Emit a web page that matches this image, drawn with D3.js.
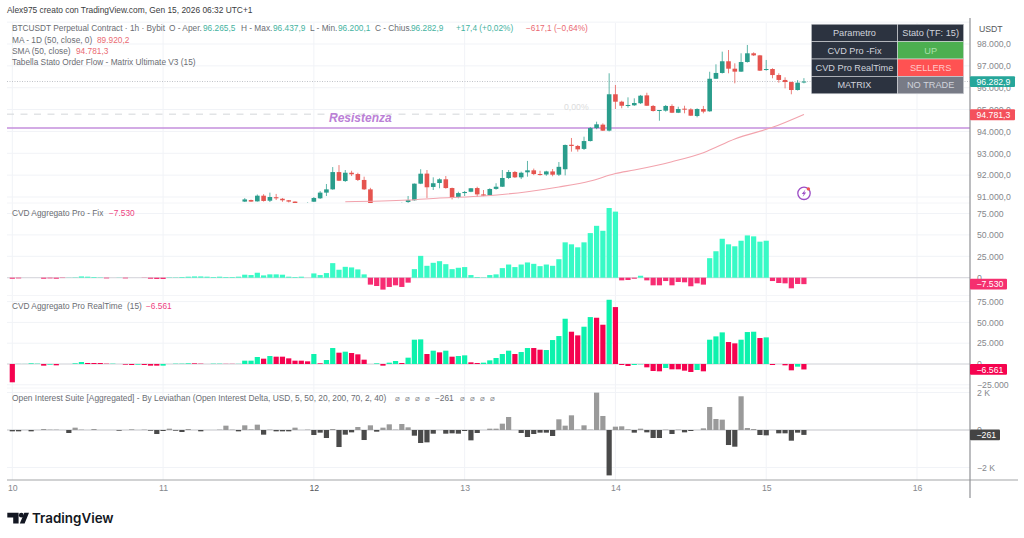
<!DOCTYPE html>
<html>
<head>
<meta charset="utf-8">
<title>BTCUSDT</title>
<script src="https://d3js.org/d3.v7.min.js"></script>
<style>
  html, body { margin: 0; padding: 0; background: #fff; }
  svg { display: block; }
  text { font-family: "Liberation Sans", sans-serif; }
</style>
</head>
<body>
<div id="chart"></div>
<script type="text/javascript">

// day ticks, one bar is one hour
const dayLabels = [10, 11, 12, 13, 14, 15, 16];
const priceTicks = [91000, 92000, 93000, 94000, 95000, 96000, 97000, 98000, 99000];
const cvdFixTicks = [0, 25, 50, 75];
const cvdRtTicks = [-25, 0, 25, 50, 75];
const oiTicks = [-2000, 0, 2000];

// candles start at bar 37, everything before is below the pane
const candleStart = 37;
const open = [90790,90860,90800,91060,90830,90990,90920,90850,90790,90560,90650,90785,90940,91200,91350,92140,91730,92110,92050,91780,91350,90600,90450,90550,90480,90600,90770,90850,91610,92070,91460,91640,91810,91410,91000,91180,91240,91410,91120,91080,91370,91470,91870,92145,91900,92130,92220,92050,92030,92170,92020,92270,93390,93335,93200,93560,94155,94310,94035,95700,95360,95165,95195,95290,95650,95165,94935,94950,95165,94855,95040,95010,94705,95025,94920,96410,96675,97210,96870,96735,97175,97575,97480,96810,96855,96580,96355,96260,95895,96265.5];
const high = [90950,90880,91115,91130,91200,91140,90955,90860,90800,90700,90750,91000,91270,91595,92370,92460,92235,92200,92110,91930,91420,90650,90600,90600,90640,90740,91046,91620,92270,92235,91900,91855,91960,91430,91240,91275,91410,91470,91320,91400,91630,92235,92235,92190,92160,92650,92300,92200,92200,92280,92600,93400,93700,93380,93760,94200,94445,94370,96660,96125,95405,95560,95515,95670,95770,95210,94980,95210,95240,95130,95175,95060,95060,95165,96730,97070,97650,97725,97115,97575,97955,97620,97500,97270,96890,96660,96475,96275,96350,96437.9];
const low = [90770,90780,90790,90790,90770,90860,90780,90750,90500,90500,90600,90770,90910,91045,91330,91730,91690,91960,91730,91320,90500,90350,90400,90400,90430,90560,90730,90830,91590,90955,91320,91400,91380,90890,90940,91046,91220,91010,91040,91050,91335,91460,91820,91870,91820,91930,92000,91980,91970,91950,91960,91990,93075,93075,93150,93540,94100,94020,94000,95025,95060,95085,95165,95255,95165,94910,94490,94905,94840,94840,94830,94705,94645,94830,94900,96400,96650,96660,96200,96720,97150,97450,96765,96780,96430,96230,95970,95700,95870,96200.1];
const close = [90890,90790,91060,90820,91000,90940,90850,90790,90560,90650,90710,90955,91200,91350,92140,91745,92110,92040,91780,91350,90600,90450,90550,90480,90600,90700,90860,91610,92066,91445,91630,91810,91410,90955,91180,91230,91400,91120,91060,91365,91470,91870,92145,91900,92110,92220,92050,92030,92170,92020,92380,93380,93335,93180,93560,94155,94325,94035,95700,95360,95175,95210,95300,95635,95175,94935,94980,95165,94855,95025,94995,94720,95025,94905,96410,96675,97210,96870,96735,97175,97575,97480,96780,96855,96580,96355,96260,95895,96230,96282.9];

// SMA 50 read at these bars
const smaBars = [53, 63, 68, 75, 82, 87, 92, 96, 99, 105, 110, 115, 121, 126];
const smaValues = [90785, 90863, 90955, 91046, 91243, 91458, 91732, 92075, 92235, 92615, 93027, 93654, 94189, 94781.3];

const resistance = 94157;
const lastClose = 96282.9;
const dashedLevel = 94790;

// CVD fix, thousands
const cvdFix = [-1.2,-0.8,0,0,0,-1.2,-0.8,-1.2,-0.4,0.2,0.4,1.5,1.2,0.8,0.4,-0.8,0,0.2,-0.8,0,0,-0.2,-1.2,-1.5,-1.5,0.4,0.4,0.8,1.2,1.5,1.5,1.2,0.8,1.2,0.8,0.8,1.2,3.5,3.1,5.8,2.7,3.9,3.9,3.5,1.2,0.8,1.2,0,5,3.1,5.4,17,9.3,12.7,12,9.7,3.9,-8.1,-9.7,-13.9,-10.8,-8.9,-10.8,-5.8,10,25.5,13.9,17.4,19.3,15.8,10,11.6,12.4,3.1,0.8,0.4,3.1,3.9,11.2,15.4,12.4,15.4,17.8,16.2,13.5,15.4,13.9,21.6,41.3,39,35.5,41.3,52.1,60.6,54.8,81.4,77.2,-3.1,-2.7,-1.2,2.3,-3.1,-8.9,-8.9,-3.9,-8.9,-5,-5.4,-10,-6.6,-8.1,22.8,30.9,45.5,39,36.7,43.2,49.4,48.3,42.1,43.2,-3.9,-6.2,-6.6,-12.4,-7.3,-7.53];

// CVD realtime, thousands, with side 1 buyers 0 sellers (colour does not follow the sign)
const cvdRt = [-22,0.1,0.1,0.8,0.4,-2,-0.8,-1.6,0,0,0.8,2.4,1.2,1.2,1.2,0.4,0.4,0,-0.8,-1.2,-0.8,-1.2,-2,-2,-2,0,0.4,0.4,0.8,0.8,0.4,0,0.4,0.4,0.2,0.2,0.2,4,4,8.4,6.4,9.6,8.8,8.8,6.8,4,4,3.2,12,0.8,4.8,19.2,13.6,14.8,13.2,11.6,5.2,0,0.8,-2,1.6,3.6,1.2,7.6,29.2,29.6,12,16,14,16,8.8,9.6,10.4,2,1.2,1.6,4.4,7.2,12,16,12,14.4,19.2,19.2,17.2,16.8,28.8,33.6,54.4,38.8,34.4,44.8,56.4,55.6,47.2,77.2,68.4,-1.2,-2.4,-1.2,-0.4,-4,-8.4,-8.8,-4.8,-6.4,-6.4,-8,-9.6,-7.2,-8.8,29.2,33.2,38,26.4,24.8,29.2,38.4,38.8,31.2,32,-1.2,0,-1.6,-7.6,-3.2,-6.561];
const cvdRtSide = [0,1,1,1,1,0,1,0,1,1,1,1,0,0,0,0,1,1,0,0,1,0,0,0,1,1,1,1,1,0,0,1,1,1,0,0,1,1,1,1,0,1,0,0,0,0,0,0,1,0,1,1,0,1,0,0,0,1,1,0,1,1,0,1,1,1,0,1,0,1,0,1,1,0,0,1,1,1,1,1,0,1,1,0,0,1,1,1,1,0,0,1,1,0,0,1,0,0,0,1,1,0,0,0,1,0,0,0,0,1,0,1,1,1,0,0,1,1,1,0,1,0,1,0,0,1,0];

// open interest delta
const oiDelta = [-71,-71,0,-71,0,53,18,18,0,-160,125,18,0,53,0,0,0,-36,0,36,0,18,-36,-214,-53,71,-36,-107,53,0,-71,0,0,18,231,18,-71,249,36,285,-249,18,-71,-71,-71,125,0,18,-267,-142,-427,53,-908,-249,-125,160,-534,249,-89,125,303,18,320,142,-303,-694,-659,-196,0,-196,-178,-196,-53,-552,-160,0,71,71,338,694,0,-160,-374,-214,-142,-142,-320,570,231,783,18,249,18,1994,748,-2421,178,196,36,-142,71,-125,-427,-427,18,-214,18,-125,-53,0,89,1228,587,552,-801,-890,1798,107,53,-267,-285,0,-178,-178,-570,-142,-261];

const tableHead = ["Parametro", "Stato (TF: 15)"];
const tableRows = ["CVD Pro -Fix", "CVD Pro RealTime", "MATRIX"];
const tableStates = ["UP", "SELLERS", "NO TRADE"];
const tableColors = ["#4caf50", "#ff5252", "#787b86"];

const W = 1024, H = 538;
const axisX = 970, leftX = 7;
const axisFont = 8.7, legendFont = 8.3;

const svg = d3.select("#chart").append("svg").attr("width", W).attr("height", H);

const x = d3.scaleLinear().domain([0, 144]).range([12.3, 917]);
const yPrice = d3.scaleLinear().domain([91000, 98000]).range([197, 44]);
const yFix = d3.scaleLinear().domain([0, 75]).range([277.7, 213.5]);
const yRt = d3.scaleLinear().domain([0, 75]).range([364, 301.6]);
const yOi = d3.scaleLinear().domain([-2000, 2000]).range([467.5, 392.5]);

const grid = "#f1f3f7";
// italian number format, 96.282,9
function itNum(v, dec) {
  const parts = Math.abs(v).toFixed(dec).split(".");
  const whole = parts[0].replace(/\B(?=(\d{3})+$)/g, ".");
  return (v < 0 ? "\u2212" : "") + whole + (parts[1] ? "," + parts[1] : "");
}

// grids
const gGrid = svg.append("g");
gGrid.selectAll("line.v").data(dayLabels).enter().append("line")
  .attr("x1", (d, i) => x(i * 24)).attr("x2", (d, i) => x(i * 24))
  .attr("y1", 23).attr("y2", 480).attr("stroke", grid);
function hGrid(scale, ticks) {
  gGrid.selectAll(null).data(ticks).enter().append("line")
    .attr("x1", leftX).attr("x2", axisX)
    .attr("y1", d => scale(d)).attr("y2", d => scale(d)).attr("stroke", grid);
}
hGrid(yPrice, priceTicks);
hGrid(yFix, cvdFixTicks);
hGrid(yRt, cvdRtTicks);
hGrid(yOi, oiTicks);
[203, 295.5, 388].forEach(function(y) {
  gGrid.append("line").attr("x1", leftX).attr("x2", axisX).attr("y1", y).attr("y2", y).attr("stroke", "#f4f5f8");
});

// zero lines
[[yFix, 0, "#d5d6da"], [yRt, 0, "#d5d6da"], [yOi, 0, "#c9cacd"]].forEach(function(z) {
  svg.append("line").attr("x1", leftX).attr("x2", axisX)
    .attr("y1", z[0](z[1])).attr("y2", z[0](z[1])).attr("stroke", z[2]);
});

// price pane
svg.append("clipPath").attr("id", "pricePane").append("rect")
  .attr("x", leftX).attr("y", 23).attr("width", axisX - leftX).attr("height", 180);
const pane = svg.append("g").attr("clip-path", "url(#pricePane)");

pane.append("line").attr("x1", leftX).attr("x2", axisX)
  .attr("y1", yPrice(lastClose)).attr("y2", yPrice(lastClose))
  .attr("stroke", "#bfc3c9").attr("stroke-dasharray", "1,1.5");
pane.append("line").attr("x1", leftX).attr("x2", 557)
  .attr("y1", yPrice(dashedLevel)).attr("y2", yPrice(dashedLevel))
  .attr("stroke", "#d4d6da").attr("stroke-dasharray", "7,6.5");
pane.append("text").attr("x", 564).attr("y", 110).attr("font-size", axisFont)
  .attr("fill", "#dcdcdc").text("0,00%");

pane.append("line").attr("x1", leftX).attr("x2", axisX)
  .attr("y1", yPrice(resistance)).attr("y2", yPrice(resistance))
  .attr("stroke", "#c58fdc").attr("stroke-width", 1.6);

const candles = open.map((o, i) => ({ i: i + candleStart, o: o, h: high[i], l: low[i], c: close[i] }));
const green = "#2a9d8c", red = "#e5544f";
const cg = pane.selectAll("g.candle").data(candles).enter().append("g").attr("class", "candle");
cg.append("line")
  .attr("x1", d => x(d.i)).attr("x2", d => x(d.i))
  .attr("y1", d => yPrice(d.h)).attr("y2", d => yPrice(d.l))
  .attr("stroke", d => d.c >= d.o ? green : red).attr("stroke-opacity", 0.75);
cg.append("rect")
  .attr("x", d => x(d.i) - 2.3).attr("width", 4.6)
  .attr("y", d => yPrice(Math.max(d.o, d.c)))
  .attr("height", d => Math.max(1, Math.abs(yPrice(d.o) - yPrice(d.c))))
  .attr("fill", d => d.c >= d.o ? green : red);

const smaLine = d3.line().x(d => x(d[0])).y(d => yPrice(d[1])).curve(d3.curveMonotoneX);
pane.append("path").datum(smaBars.map((b, i) => [b, smaValues[i]]))
  .attr("d", smaLine).attr("fill", "none").attr("stroke", "#f2a3ad").attr("stroke-width", 1.1);

pane.append("text").attr("x", 329).attr("y", 121.5).attr("font-size", 12)
  .attr("font-weight", "bold").attr("font-style", "italic").attr("fill", "#bb80d6").text("Resistenza");

// indicator bars
function bars(values, scale, color) {
  svg.append("g").selectAll("rect").data(values).enter().append("rect")
    .attr("x", (d, i) => x(i) - 2.6).attr("width", 5.2)
    .attr("y", d => Math.min(scale(d), scale(0)))
    .attr("height", d => Math.abs(scale(d) - scale(0)))
    .attr("fill", color);
}
bars(cvdFix, yFix, d => d >= 0 ? "#38fac6" : "#f72c72");
bars(cvdRt, yRt, (d, i) => cvdRtSide[i] ? "#0df2ad" : "#f5034f");
bars(oiDelta, yOi, d => d >= 0 ? "#9a9a9a" : "#4a4a4a");

// axes lines
svg.append("line").attr("x1", leftX).attr("x2", 1018).attr("y1", 480).attr("y2", 480).attr("stroke", "#a3a5a8").attr("stroke-width", 1.2);
svg.append("line").attr("x1", axisX).attr("x2", axisX).attr("y1", 18).attr("y2", 498).attr("stroke", "#8f9195").attr("stroke-width", 1.2);

// right axes
function rightAxis(scale, ticks, fmt) {
  const a = d3.axisRight(scale).tickValues(ticks).tickFormat(fmt).tickSize(0).tickPadding(7);
  const g = svg.append("g").attr("transform", "translate(" + axisX + ",0)").call(a);
  g.select(".domain").remove();
  g.selectAll("text").attr("fill", "#85878c").attr("font-size", axisFont)
    .style("font-family", "'Liberation Sans', sans-serif");
}
rightAxis(yPrice, priceTicks.slice(0, 8), d => itNum(d, 1));
rightAxis(yFix, cvdFixTicks, d => d === 0 ? "0" : itNum(d * 1000, 0));
rightAxis(yRt, cvdRtTicks, d => d === 0 ? "0" : itNum(d * 1000, 0));
rightAxis(yOi, oiTicks, d => d === 0 ? "0" : (d < 0 ? "\u2212" : "") + Math.abs(d / 1000) + " K");

// bottom axis
const dayAxis = d3.axisBottom(x).tickValues(dayLabels.map((d, i) => i * 24))
  .tickFormat((d, i) => dayLabels[i]).tickSize(0).tickPadding(5);
const gDays = svg.append("g").attr("transform", "translate(0,480)").call(dayAxis);
gDays.select(".domain").remove();
gDays.selectAll("text").attr("fill", (d, i) => dayLabels[i] === 12 ? "#55585c" : "#85878c").attr("font-size", axisFont)
  .style("font-family", "'Liberation Sans', sans-serif");

svg.append("text").attr("x", 979).attr("y", 32).attr("font-size", axisFont).attr("fill", "#55585c").text("USDT");

// last value tags
function tag(y0, y1, x1, color, label) {
  svg.append("rect").attr("x", axisX).attr("y", y0).attr("width", x1 - axisX).attr("height", y1 - y0)
    .attr("rx", 1).attr("fill", color);
  svg.append("text").attr("x", axisX + 6.5).attr("y", (y0 + y1) / 2 + 3.1).attr("font-size", axisFont)
    .attr("fill", "#fff").text(label);
}
tag(yPrice(lastClose) - 5.2, yPrice(lastClose) + 5.4, 1015, "#26a69a", itNum(lastClose, 1));
tag(yPrice(smaValues[13]) - 5, yPrice(smaValues[13]) + 6, 1015, "#f4515c", itNum(smaValues[13], 1));
tag(yFix(cvdFix[126]) - 5.3, yFix(cvdFix[126]) + 5.3, 1007, "#f5306f", itNum(cvdFix[126] * 1000, 0));
tag(yRt(cvdRt[126]) - 5.4, yRt(cvdRt[126]) + 5.4, 1007, "#f5034f", itNum(cvdRt[126] * 1000, 0));
tag(yOi(oiDelta[126]) - 5.3, yOi(oiDelta[126]) + 5.3, 1000, "#444", itNum(oiDelta[126], 0));

// legend texts
function label(px, py, s, color, size) {
  return svg.append("text").attr("x", px).attr("y", py).attr("font-size", size || legendFont)
    .attr("fill", color || "#6a6d73").text(s);
}
const valG = "#45b39f", valR = "#ea6a72";
label(7, 13, "Alex975 creato con TradingView.com, Gen 15, 2026 06:32 UTC+1", "#3a3c40", 8.4);
label(12, 31, "BTCUSDT Perpetual Contract \u00b7 1h \u00b7 Bybit");
label(169, 31, "O - Aper.");
label(203, 31, itNum(open[89], 1), valG);
label(241, 31, "H - Max.");
label(273, 31, itNum(high[89], 1), valG);
label(310, 31, "L - Min.");
label(338, 31, itNum(low[89], 1), valG);
label(375, 31, "C - Chius.");
label(411, 31, itNum(close[89], 1), valG);
label(456, 31, "+17,4 (+0,02%)", valG);
label(526, 31, "\u2212617,1 (\u22120,64%)", valR);
label(12, 42.5, "MA - 1D (50, close, 0)");
label(97, 42.5, "89.920,2", valR);
label(12, 53.5, "SMA (50, close)");
label(76, 53.5, itNum(smaValues[13], 1), valR);
label(12, 64.5, "Tabella Stato Order Flow - Matrix Ultimate V3 (15)");

label(12, 216, "CVD Aggregato Pro - Fix");
label(109, 216, itNum(cvdFix[126] * 1000, 0), "#ee3f7f");
label(12, 308.5, "CVD Aggregato Pro RealTime");
label(127, 308.5, "(15)");
label(146, 308.5, itNum(cvdRt[126] * 1000, 0), "#ee3f7f");
label(12, 401, "Open Interest Suite [Aggregated] - By Leviathan (Open Interest Delta, USD, 5, 50, 20, 200, 70, 2, 40)", null, 8.4);
[395, 405, 415, 425, 460, 470, 480, 490].forEach(function(px) {
  label(px, 401, "\u2300", "#8a8c90", 8);
});
label(435, 401, itNum(oiDelta[126], 0));

// status table
const colX = [811.3, 897.6, 963.7];
const rowY = d3.scaleBand().domain(d3.range(4)).range([24.2, 93.8]);
const gT = svg.append("g");
const tableData = [tableHead].concat(tableRows.map((r, i) => [r, tableStates[i]]));
tableData.forEach(function(row, r) {
  row.forEach(function(cell, c) {
    gT.append("rect").attr("x", colX[c]).attr("y", rowY(r))
      .attr("width", colX[c + 1] - colX[c]).attr("height", rowY.bandwidth())
      .attr("fill", (r > 0 && c === 1) ? tableColors[r - 1] : "#2c3340")
      .attr("stroke", "#d8dade").attr("stroke-width", 0.6);
    gT.append("text").attr("x", (colX[c] + colX[c + 1]) / 2).attr("y", rowY(r) + rowY.bandwidth() / 2 + 3.3)
      .attr("text-anchor", "middle").attr("font-size", 9.2)
      .attr("fill", (r === 1 && c === 1) ? "#a8e0a8" : (r === 2 && c === 1) ? "#ffc9c9" : "#d1d4dc").text(cell);
  });
});

// alert icon
const icon = svg.append("g").attr("transform", "translate(804,193.3)");
icon.append("circle").attr("r", 6.2).attr("fill", "#fff").attr("stroke", "#9c4dc5").attr("stroke-width", 1.3);
icon.append("path").attr("d", "M1.4,-3.8 L-2.2,0.6 L-0.2,0.6 L-1.4,3.8 L2.2,-0.8 L0.2,-0.8 Z").attr("fill", "#9c4dc5");
icon.append("circle").attr("cx", 4.4).attr("cy", -4.4).attr("r", 1.7).attr("fill", "#ef5350");

// logo
const logo = svg.append("g").attr("fill", "#131722");
logo.append("path").attr("d", "M7.3,512.8 H18.6 V523.4 H13.2 V517.6 H7.3 Z");
logo.append("circle").attr("cx", 21.3).attr("cy", 515.2).attr("r", 2.4);
logo.append("path").attr("d", "M24.3,512.8 H29 L24.6,523.4 H19.8 Z");
svg.append("text").attr("x", 32).attr("y", 523.4).attr("font-size", 13.4).attr("font-weight", 600)
  .attr("fill", "#131722").style("font-family", "Inter, sans-serif").text("TradingView");

</script>
</body>
</html>
